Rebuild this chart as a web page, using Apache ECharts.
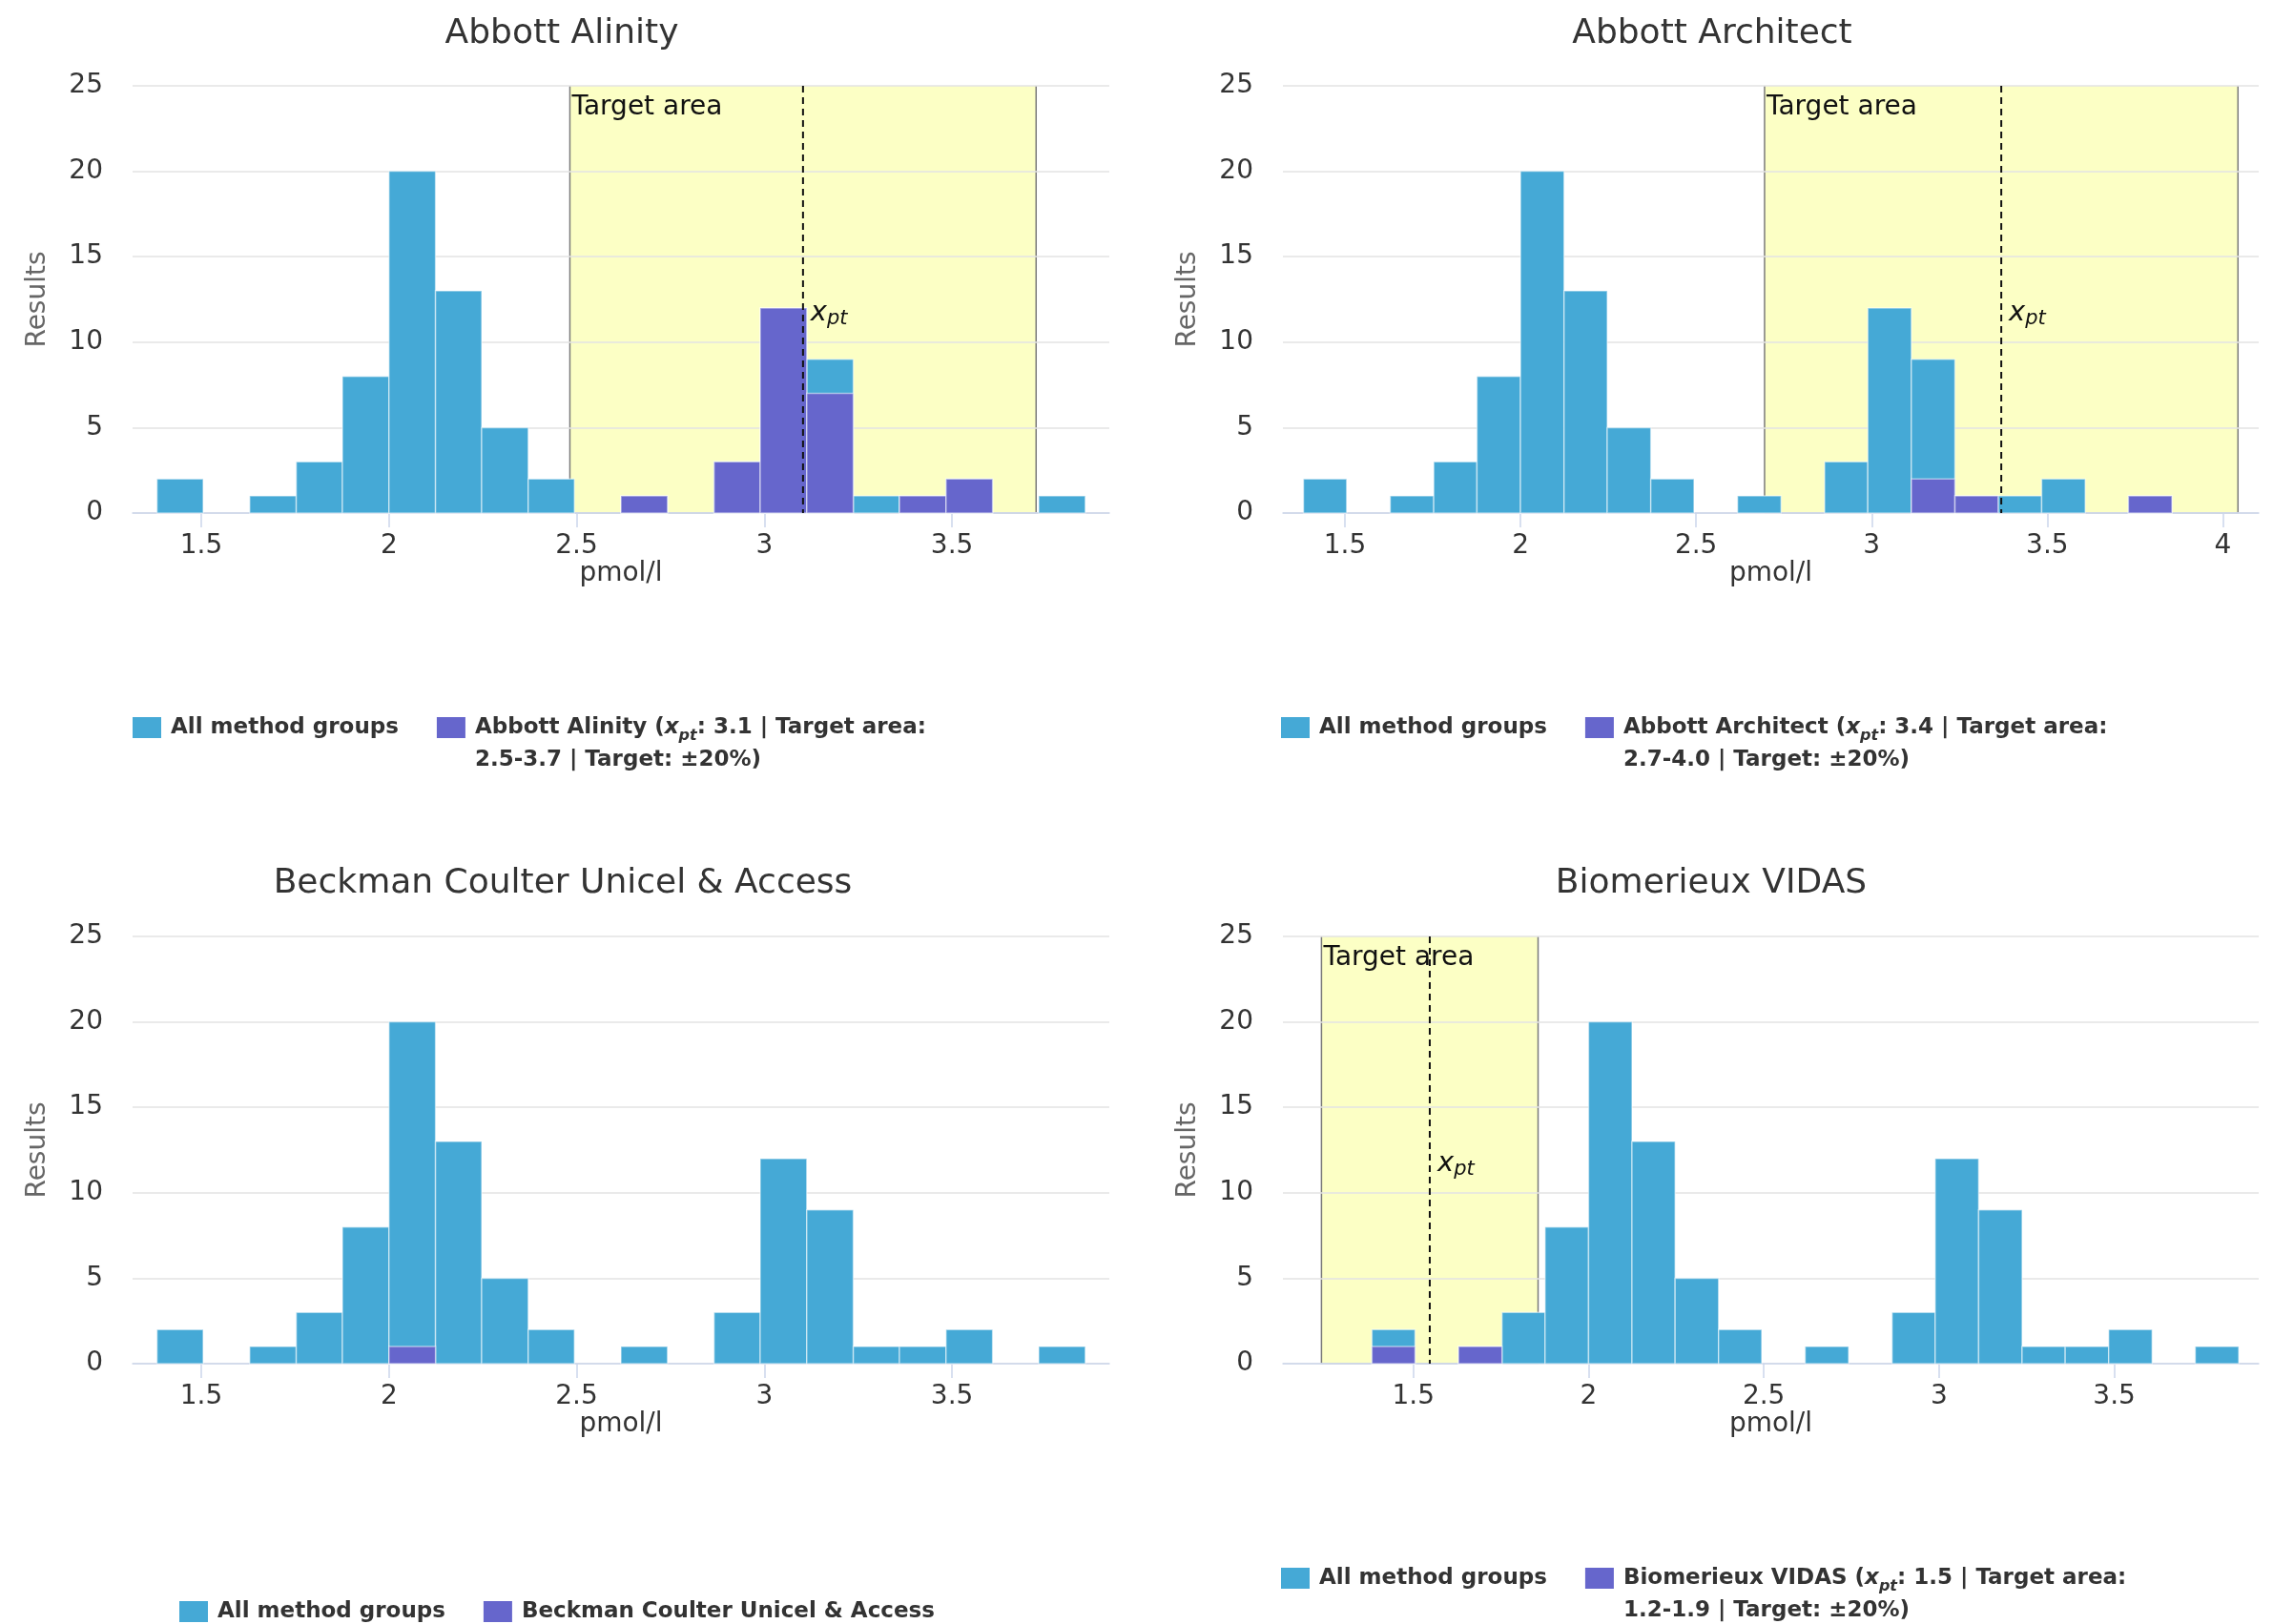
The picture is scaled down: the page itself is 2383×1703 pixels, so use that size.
<!DOCTYPE html>
<html><head><meta charset="utf-8">
<script src="https://cdn.jsdelivr.net/npm/echarts@6/dist/echarts.min.js"></script>
<style>html,body{margin:0;padding:0;background:#fff}#c{width:2383px;height:1703px}</style>
</head><body><div id="c"></div>
<script>
// ---- data ----
const binEdges = [1.382, 1.505, 1.629, 1.753, 1.876, 2.000, 2.124, 2.247, 2.371, 2.494, 2.618, 2.742, 2.866, 2.989, 3.113, 3.237, 3.360, 3.484, 3.608, 3.731, 3.855];
const allMethodCounts = [2, 0, 1, 3, 8, 20, 13, 5, 2, 0, 1, 0, 3, 12, 9, 1, 1, 2, 0, 1];
const alinityCounts   = [0, 0, 0, 0, 0, 0, 0, 0, 0, 0, 1, 0, 3, 12, 7, 0, 1, 2, 0, 0];
const architectCounts = [0, 0, 0, 0, 0, 0, 0, 0, 0, 0, 0, 0, 0, 0, 2, 1, 0, 0, 0, 1];
const beckmanCounts   = [0, 0, 0, 0, 0, 1, 0, 0, 0, 0, 0, 0, 0, 0, 0, 0, 0, 0, 0, 0];
const vidasCounts     = [1, 0, 1, 0, 0, 0, 0, 0, 0, 0, 0, 0, 0, 0, 0, 0, 0, 0, 0, 0];
const methodNames = ['Abbott Alinity', 'Abbott Architect', 'Beckman Coulter Unicel & Access', 'Biomerieux VIDAS'];
const methodCounts = [alinityCounts, architectCounts, beckmanCounts, vidasCounts];
const xptValues  = [3.103, 3.369, null, 1.547];
const targetLow  = [2.482, 2.695, null, 1.238];
const targetHigh = [3.724, 4.043, null, 1.856];
const legendXpt  = ['3.1', '3.4', null, '1.5'];
const legendArea = ['2.5-3.7', '2.7-4.0', null, '1.2-1.9'];
const xMin = [1.317, 1.3235, 1.317, 1.128];
const xMax = [3.919, 4.102, 3.919, 3.912];
const xTickValues = [[1.5, 2, 2.5, 3, 3.5], [1.5, 2, 2.5, 3, 3.5, 4], [1.5, 2, 2.5, 3, 3.5], [1.5, 2, 2.5, 3, 3.5]];
const yMax = 25, yStep = 5;

// ---- layout / style ----
const F = 'DejaVu Sans';
const BLUE = '#45a9d6', PURPLE = '#6666cc', BAND = '#fcffc5';
const grids = [
  {left: 139, top: 90, width: 1024, height: 448},
  {left: 1345, top: 90, width: 1023, height: 448},
  {left: 139, top: 982, width: 1024, height: 448},
  {left: 1345, top: 982, width: 1023, height: 448}
];
const titleX = [589, 1795, 590, 1794];
const titleTop = [18, 18, 909, 909];
const legendLeft = [139, 1343, 188, 1343];
const legendTop = [712, 712, 1673, 1604];

function binData(counts) {
  return counts.map((c, i) => [binEdges[i], binEdges[i + 1], c]);
}
function barRender(params, api) {
  const c = api.value(2);
  if (!c) return null;
  const p0 = api.coord([api.value(0), c]);
  const p1 = api.coord([api.value(1), 0]);
  return {type: 'rect', shape: {x: p0[0], y: p0[1], width: p1[0] - p0[0], height: p1[1] - p0[1]},
    style: {fill: api.visual('color'), stroke: 'rgba(255,255,255,0.5)', lineWidth: 1.5}};
}
function bandRender(params, api) {
  const cs = params.coordSys;
  const a = api.coord([api.value(0), 0])[0], b = api.coord([api.value(1), 0])[0];
  const y0 = cs.y, y1 = cs.y + cs.height;
  return {type: 'group', children: [
    {type: 'rect', shape: {x: a, y: y0, width: b - a, height: cs.height}, style: {fill: BAND}},
    {type: 'line', shape: {x1: a, y1: y1, x2: b, y2: y1}, style: {stroke: '#a9a99a', lineWidth: 1.5}},
    {type: 'line', shape: {x1: a, y1: y0, x2: a, y2: y1}, style: {stroke: '#7a7a7a', lineWidth: 1.5}},
    {type: 'line', shape: {x1: b, y1: y0, x2: b, y2: y1}, style: {stroke: '#7a7a7a', lineWidth: 1.5}},
    {type: 'text', x: a + 2, y: y0 + 9, style: {text: 'Target area', fontFamily: F, fontSize: 28, fill: '#111', align: 'left', verticalAlign: 'top'}}
  ]};
}
function xptRender(params, api) {
  const cs = params.coordSys;
  const x = api.coord([api.value(0), 0])[0];
  return {type: 'group', children: [
    {type: 'line', shape: {x1: x, y1: cs.y, x2: x, y2: cs.y + cs.height}, style: {stroke: '#111', lineWidth: 2, lineDash: [7, 5]}},
    {type: 'text', x: x + 8, y: cs.y + cs.height - 210, style: {
      text: '{x|x}{s|pt}', align: 'left', verticalAlign: 'middle',
      rich: {
        x: {fontFamily: F, fontStyle: 'italic', fontSize: 29, fill: '#111', lineHeight: 34},
        s: {fontFamily: F, fontStyle: 'italic', fontSize: 21, fill: '#111', lineHeight: 21, verticalAlign: 'bottom'}
      }}}
  ]};
}

const legendRich = {
  b: {fontFamily: F, fontWeight: 'bold', fontSize: 23, color: '#333', lineHeight: 34},
  i: {fontFamily: F, fontWeight: 'bold', fontStyle: 'italic', fontSize: 23, color: '#333', lineHeight: 34},
  s: {fontFamily: F, fontWeight: 'bold', fontStyle: 'italic', fontSize: 16, color: '#333', lineHeight: 16, verticalAlign: 'bottom'}
};

const option = {
  backgroundColor: '#ffffff',
  animation: false,
  title: [], legend: [], grid: [], xAxis: [], yAxis: [], series: []
};

for (let i = 0; i < 4; i++) {
  option.title.push({text: methodNames[i], left: titleX[i], top: titleTop[i], textAlign: 'center', padding: 0,
    textStyle: {fontFamily: F, fontSize: 36, fontWeight: 'normal', color: '#333'}});
  option.grid.push(Object.assign({containLabel: false}, grids[i]));
  option.xAxis.push({
    type: 'value', gridIndex: i, min: xMin[i], max: xMax[i],
    name: 'pmol/l', nameLocation: 'middle', nameGap: 45,
    nameTextStyle: {fontFamily: F, fontSize: 28, color: '#333'},
    axisLine: {show: true, lineStyle: {color: '#ccd6eb', width: 1.5}},
    axisTick: {show: true, length: 15, lineStyle: {color: '#ccd6eb', width: 1.5}, customValues: xTickValues[i]},
    axisLabel: {fontFamily: F, fontSize: 28, color: '#333', margin: 21, customValues: xTickValues[i]},
    splitLine: {show: false}
  });
  option.yAxis.push({
    type: 'value', gridIndex: i, min: 0, max: yMax, interval: yStep,
    name: 'Results', nameLocation: 'middle', nameGap: 85,
    nameTextStyle: {fontFamily: F, fontSize: 28, color: '#666'},
    axisLine: {show: false}, axisTick: {show: false},
    axisLabel: {fontFamily: F, fontSize: 28, color: '#333', margin: 31},
    splitLine: {lineStyle: {color: '#e3e3e3', width: 1.5}}
  });
  if (xptValues[i] != null) {
    option.series.push({type: 'custom', name: 'band' + i, xAxisIndex: i, yAxisIndex: i, z: -1, silent: true,
      renderItem: bandRender, encode: {x: [0, 1]}, data: [[targetLow[i], targetHigh[i]]]});
  }
  option.series.push({type: 'custom', name: 'All method groups', xAxisIndex: i, yAxisIndex: i, z: 2,
    itemStyle: {color: BLUE}, renderItem: barRender, encode: {x: [0, 1], y: 2}, data: binData(allMethodCounts)});
  option.series.push({type: 'custom', name: methodNames[i], xAxisIndex: i, yAxisIndex: i, z: 3,
    itemStyle: {color: PURPLE}, renderItem: barRender, encode: {x: [0, 1], y: 2}, data: binData(methodCounts[i])});
  if (xptValues[i] != null) {
    option.series.push({type: 'custom', name: 'xpt' + i, xAxisIndex: i, yAxisIndex: i, z: 5, silent: true,
      renderItem: xptRender, encode: {x: 0}, data: [[xptValues[i]]]});
  }
  const nm = methodNames[i], hasX = legendXpt[i] != null;
  option.legend.push({
    left: legendLeft[i], top: legendTop[i], padding: 0, itemGap: 40, itemWidth: 30, itemHeight: 22,
    icon: 'rect', selectedMode: false, orient: 'horizontal',
    textStyle: {fontFamily: F, fontWeight: 'bold', fontSize: 23, color: '#333', lineHeight: 34, rich: legendRich},
    data: [
      {name: 'All method groups', textStyle: {padding: [0, 0, 0, 5]}},
      {name: nm, textStyle: {padding: hasX ? [34, 0, 0, 5] : [0, 0, 0, 5]}}
    ],
    formatter: function (n) {
      if (n === nm && hasX) {
        return '{b|' + nm + ' (}{i|x}{s|pt}{b|: ' + legendXpt[i] + ' | Target area:}\n{b|' + legendArea[i] + ' | Target: ±20%)}';
      }
      return n;
    }
  });
}

const chart = echarts.init(document.getElementById('c'), null, {renderer: 'canvas'});
chart.setOption(option);
</script>
</body></html>
